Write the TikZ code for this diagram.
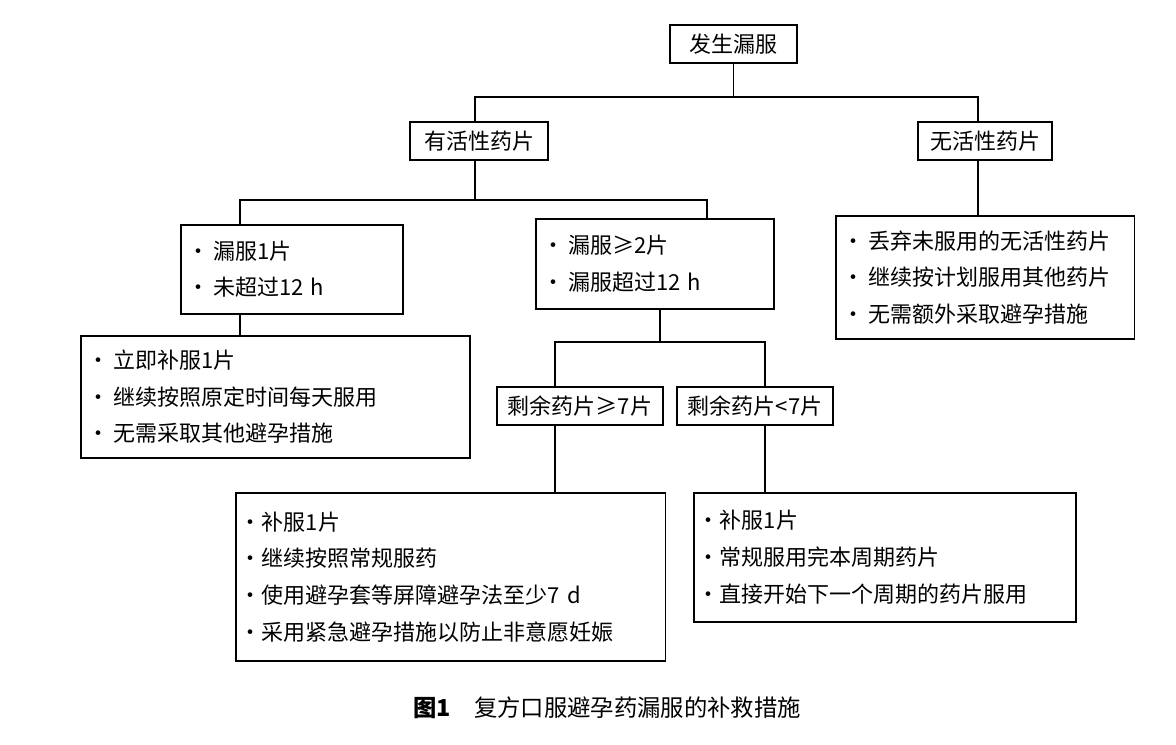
\documentclass[tikz,border=0pt]{standalone}
\usepackage{fontspec}
\setmainfont{Noto Sans CJK SC}
\begin{document}
\begin{tikzpicture}[x=0.75pt,y=-0.75pt,
  every node/.style={font=\fontsize{16.5}{27.5}\selectfont},
  sb/.style={draw,line width=1.2pt,inner sep=0pt},
  lb/.style={draw,line width=1.2pt,anchor=north west,align=left,inner xsep=5pt,inner ysep=0pt},
  ln/.style={line width=1.2pt}]
\useasboundingbox (0,0) rectangle (1176,744);
\node[sb,minimum width=95.25pt,minimum height=28.5pt] (fa) at (733.5,44) {发生漏服};
\node[sb,minimum width=103.5pt,minimum height=28.5pt] (yh) at (479,141) {有活性药片};
\node[sb,minimum width=100.5pt,minimum height=28.5pt] (wh) at (985,141) {无活性药片};
\node[lb,text width=156.5pt,minimum height=66.75pt] (lbx) at (180,224) {•\,漏服1片\\•\,未超过12 h};
\node[lb,text width=168.5pt,minimum height=67.5pt] (mbx) at (535,218) {•\,漏服≥2片\\•\,漏服超过12 h};
\node[lb,text width=214pt,minimum height=92.25pt] (rbx) at (835,215) {•\,丢弃未服用的无活性药片\\•\,继续按计划服用其他药片\\•\,无需额外采取避孕措施};
\node[lb,text width=281.75pt,minimum height=91.5pt] (ljbx) at (80,335) {•\,立即补服1片\\•\,继续按照原定时间每天服用\\•\,无需采取其他避孕措施};
\node[sb,minimum width=124.5pt,minimum height=28.5pt] (s1) at (580,406) {剩余药片≥7片};
\node[sb,minimum width=117pt,minimum height=28.5pt] (s2) at (755,406) {剩余药片<7片};
\node[lb,text width=316.25pt,minimum height=126pt,inner xsep=3pt] (blb) at (235,492) {•补服1片\\•继续按照常规服药\\•使用避孕套等屏障避孕法至少7 d\\•采用紧急避孕措施以防止非意愿妊娠};
\node[lb,text width=280.5pt,minimum height=96.75pt,inner xsep=3pt] (brb) at (693,492) {•补服1片\\•常规服用完本周期药片\\•直接开始下一个周期的药片服用};
\node[font=\fontsize{17.5}{20}\selectfont] (cap) at (607,708) {\textbf{图1}\quad 复方口服避孕药漏服的补救措施};
\coordinate (j1) at (733.5,97);
\coordinate (p0) at (475,122);
\coordinate (p0b) at (475,160);
\coordinate (p0r) at (978,122);
\coordinate (p0rb) at (978,160);
\coordinate (pr) at (978,215);
\coordinate (j2) at (475,200);
\coordinate (pl) at (240,224);
\coordinate (pm) at (707,218);
\coordinate (plb) at (240,313);
\coordinate (plc) at (240,335);
\coordinate (pmb) at (660,308);
\coordinate (j3) at (660,342);
\coordinate (q1) at (555,387);
\coordinate (q2) at (765,387);
\coordinate (q1b) at (555,425);
\coordinate (q2b) at (765,425);
\coordinate (q1c) at (555,492);
\coordinate (q2c) at (765,492);
\draw[ln] (fa.south) -- (j1);
\draw[ln] (p0) |- (j1) -| (p0r);
\draw[ln] (p0rb) -- (pr);
\draw[ln] (p0b) -- (j2);
\draw[ln] (pl) |- (j2) -| (pm);
\draw[ln] (plb) -- (plc);
\draw[ln] (pmb) -- (j3);
\draw[ln] (q1) |- (j3) -| (q2);
\draw[ln] (q1b) -- (q1c);
\draw[ln] (q2b) -- (q2c);
\end{tikzpicture}
\end{document}
